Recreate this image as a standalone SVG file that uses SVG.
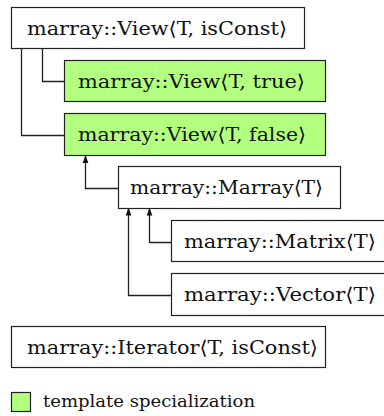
<svg xmlns="http://www.w3.org/2000/svg" width="384" height="416" viewBox="0 0 384 416">
<defs>
<marker id="ah" viewBox="0 0 8 8" refX="7" refY="4" markerWidth="8" markerHeight="8" markerUnits="userSpaceOnUse" orient="auto">
<path d="M0,1.2 L8,4 L0,6.8 Z" fill="#111"/>
</marker>
<style>
.box{fill:#fff;stroke:#222;stroke-width:1.2}
.spec{fill:#b3ff80;stroke:#222;stroke-width:1.2}
.con{fill:none;stroke:#222;stroke-width:1.3}
</style>
</defs>
<rect width="384" height="416" fill="#fff"/>
<g id="connectors">
<path class="con" d="M21.5 48.5 V135.5 H64.5"/>
<path class="con" d="M42.5 48.5 V81.5 H64.5"/>
<path class="con" d="M118.5 188.5 H85.5 V156" marker-end="url(#ah)"/>
<path class="con" d="M171.5 242.5 H149.5 V208.5" marker-end="url(#ah)"/>
<path class="con" d="M171.5 295.5 H128.5 V208.5" marker-end="url(#ah)"/>
</g>
<g font-family="'DejaVu Serif', serif" font-size="19" fill="#111">
<g id="view">
<rect class="box" x="11.5" y="7.5" width="293" height="41"/>
<text x="27" y="35" textLength="260" lengthAdjust="spacingAndGlyphs">marray::View⟨T, isConst⟩</text>
</g>
<g id="view-true">
<rect class="spec" x="64.5" y="60.5" width="261" height="41"/>
<text x="78" y="88" textLength="227" lengthAdjust="spacingAndGlyphs">marray::View⟨T, true⟩</text>
</g>
<g id="view-false">
<rect class="spec" x="64.5" y="113.5" width="261" height="42"/>
<text x="78" y="141" textLength="228" lengthAdjust="spacingAndGlyphs">marray::View⟨T, false⟩</text>
</g>
<g id="marray">
<rect class="box" x="118.5" y="166.5" width="222" height="42"/>
<text x="130" y="194" textLength="193" lengthAdjust="spacingAndGlyphs">marray::Marray⟨T⟩</text>
</g>
<g id="matrix">
<rect class="box" x="171.5" y="220.5" width="216" height="41"/>
<text x="184" y="248" textLength="192" lengthAdjust="spacingAndGlyphs">marray::Matrix⟨T⟩</text>
</g>
<g id="vector">
<rect class="box" x="171.5" y="273.5" width="216" height="42"/>
<text x="184" y="301" textLength="192" lengthAdjust="spacingAndGlyphs">marray::Vector⟨T⟩</text>
</g>
<g id="iterator">
<rect class="box" x="11.5" y="326.5" width="314" height="41"/>
<text x="27" y="354" textLength="291" lengthAdjust="spacingAndGlyphs">marray::Iterator⟨T, isConst⟩</text>
</g>
<g id="legend">
<rect class="spec" x="11.5" y="392.5" width="19" height="19"/>
<text x="43" y="407" font-size="16" textLength="212" lengthAdjust="spacingAndGlyphs">template specialization</text>
</g>
</g>
</svg>
